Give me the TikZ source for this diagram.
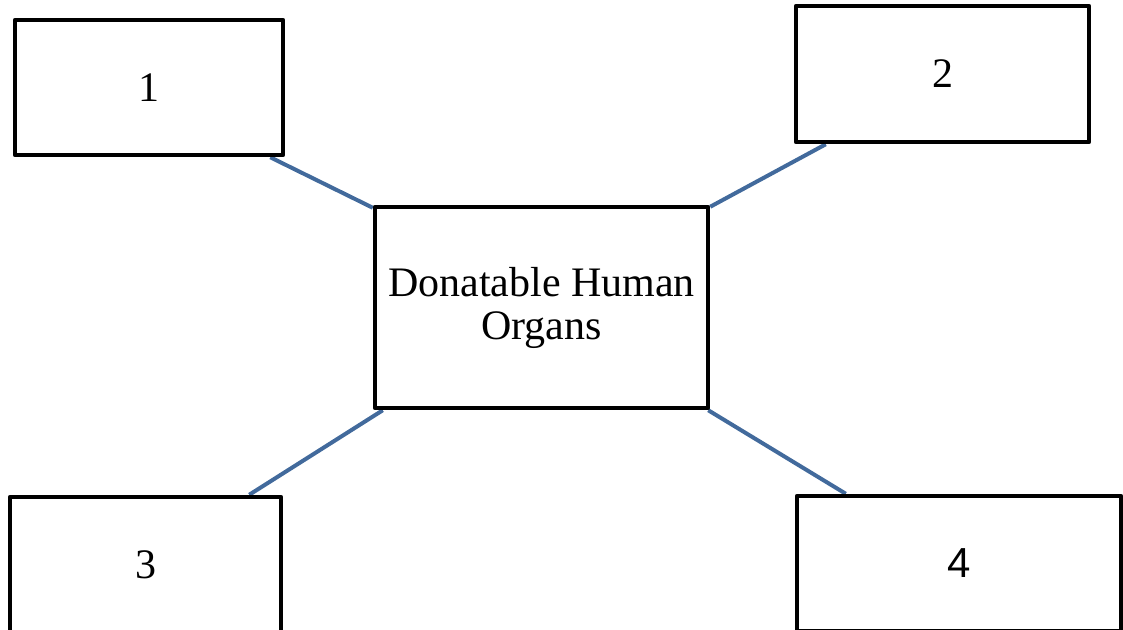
\documentclass[tikz,border=0pt]{standalone}
\usepackage{fontspec}
\setmainfont{Liberation Serif}
\newfontfamily\sansdigit{Liberation Sans}
\usetikzlibrary{backgrounds}
\definecolor{linkblue}{RGB}{66,106,156}
\begin{document}
\begin{tikzpicture}[x=1pt,y=-1pt,
  box/.style={draw=black,line width=4.5pt,line join=round,fill=white,inner sep=0pt,
    font=\fontsize{42}{43}\selectfont,align=center},
  link/.style={draw=linkblue,line width=4pt}]
\useasboundingbox (0,0) rectangle (1123,629);
\node[box,minimum width=268pt,minimum height=135pt] (b1) at (149,87.5) {1};
\node[box,minimum width=293pt,minimum height=136pt] (b2) at (942.5,74) {2};
\node[box,minimum width=271pt,minimum height=135pt] (b3) at (145.5,564.5) {3};
\node[box,minimum width=324pt,minimum height=135pt] (b4) at (959,563.5) {{\sansdigit 4}};
\node[box,minimum width=333pt,minimum height=201pt] (c) at (541.5,307.5) {Donatable Human\\Organs};
\begin{scope}[on background layer]
\draw[link] ([xshift=-15pt]b1.south east) -- ([yshift=-3pt]c.north west);
\draw[link] ([yshift=-2pt]c.north east) -- ([xshift=32pt]b2.south west);
\draw[link] ([xshift=10pt]c.south west) -- ([xshift=-34pt]b3.north east);
\draw[link] ([xshift=-2pt]c.south east) -- ([xshift=51pt]b4.north west);
\end{scope}
\end{tikzpicture}
\end{document}
